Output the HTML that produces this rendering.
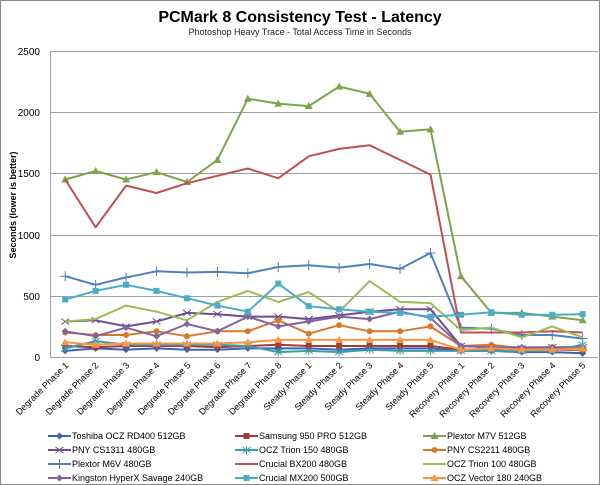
<!DOCTYPE html>
<html><head><meta charset="utf-8"><style>
html,body{margin:0;padding:0;background:#fff}
svg{display:block;font-family:"Liberation Sans",sans-serif}
</style></head><body>
<svg id="c" width="600" height="485" viewBox="0 0 600 485">
<rect x="0.5" y="0.5" width="599" height="484" fill="#fff" stroke="#888"/>
<text x="300" y="22" text-anchor="middle" font-size="16" font-weight="bold">PCMark 8 Consistency Test - Latency</text>
<text x="300" y="35" text-anchor="middle" font-size="9" fill="#222">Photoshop Heavy Trace - Total Access Time in Seconds</text>
<g stroke="#a0a0a0" stroke-width="1">
<line x1="50" y1="51.5" x2="598" y2="51.5"/><line x1="50" y1="112.5" x2="598" y2="112.5"/><line x1="50" y1="173.5" x2="598" y2="173.5"/><line x1="50" y1="235.5" x2="598" y2="235.5"/><line x1="50" y1="296.5" x2="598" y2="296.5"/><line x1="50" y1="357.5" x2="598" y2="357.5"/>
<line x1="50.5" y1="51" x2="50.5" y2="357"/>
</g>
<g font-size="10" text-anchor="end" fill="#000">
<text x="40" y="55">2500</text><text x="40" y="116">2000</text><text x="40" y="177">1500</text><text x="40" y="239">1000</text><text x="40" y="300">500</text><text x="40" y="361">0</text>
</g>
<text transform="translate(16,205) rotate(-90)" text-anchor="middle" font-size="9" font-weight="bold">Seconds (lower is better)</text>
<g font-size="9" text-anchor="end" id="cats">
<text transform="translate(69,366) rotate(-45)">Degrade Phase 1</text>
<text transform="translate(99,366) rotate(-45)">Degrade Phase 2</text>
<text transform="translate(130,366) rotate(-45)">Degrade Phase 3</text>
<text transform="translate(160,366) rotate(-45)">Degrade Phase 4</text>
<text transform="translate(191,366) rotate(-45)">Degrade Phase 5</text>
<text transform="translate(221,366) rotate(-45)">Degrade Phase 6</text>
<text transform="translate(252,366) rotate(-45)">Degrade Phase 7</text>
<text transform="translate(282,366) rotate(-45)">Degrade Phase 8</text>
<text transform="translate(312,366) rotate(-45)">Steady Phase 1</text>
<text transform="translate(343,366) rotate(-45)">Steady Phase 2</text>
<text transform="translate(373,366) rotate(-45)">Steady Phase 3</text>
<text transform="translate(404,366) rotate(-45)">Steady Phase 4</text>
<text transform="translate(434,366) rotate(-45)">Steady Phase 5</text>
<text transform="translate(465,366) rotate(-45)">Recovery Phase 1</text>
<text transform="translate(495,366) rotate(-45)">Recovery Phase 2</text>
<text transform="translate(525,366) rotate(-45)">Recovery Phase 3</text>
<text transform="translate(556,366) rotate(-45)">Recovery Phase 4</text>
<text transform="translate(586,366) rotate(-45)">Recovery Phase 5</text>
</g>
<g id="series"></g>
<g id="legend"></g>
<g font-size="9" fill="#000">
<text x="72" y="439">Toshiba OCZ RD400 512GB</text>
<text x="259" y="439">Samsung 950 PRO 512GB</text>
<text x="447" y="439">Plextor M7V 512GB</text>
<text x="72" y="453">PNY CS1311 480GB</text>
<text x="259" y="453">OCZ Trion 150 480GB</text>
<text x="447" y="453">PNY CS2211 480GB</text>
<text x="72" y="467">Plextor M6V 480GB</text>
<text x="259" y="467">Crucial BX200 480GB</text>
<text x="447" y="467">OCZ Trion 100 480GB</text>
<text x="72" y="481">Kingston HyperX Savage 240GB</text>
<text x="259" y="481">Crucial MX200 500GB</text>
<text x="447" y="481">OCZ Vector 180 240GB</text>
</g>
</svg>
<script>
var S=[
["#3B64AD","diamond",[50,70,60,70,60,60,70,70,70,60,70,70,70,50,50,40,40,30],0,0],
["#A23B3B","square",[90,80,90,90,90,80,90,100,90,90,90,90,90,60,60,60,60,60],1,0],
["#7EA34A","tri",[1450,1520,1450,1510,1430,1610,2110,2070,2050,2210,2150,1840,1860,660,360,360,330,300],2,0],
["#6C4F8D","x",[290,300,250,290,360,350,330,330,310,340,370,390,390,90,80,70,80,80],0,1],
["#3B9AAE","star",[70,130,100,100,100,100,90,40,50,40,60,50,50,50,50,50,50,100],1,1],
["#D9782D","circle",[200,180,180,210,170,210,210,300,190,260,210,210,250,90,100,70,80,60],2,1],
["#4F81BD","plus",[660,590,650,700,690,695,685,735,750,730,760,720,850,240,230,180,180,150],0,2],
["#C0504D","none",[1450,1060,1400,1340,1420,1480,1540,1460,1640,1700,1730,1610,1490,200,200,200,210,200],1,2],
["#9BBB59","none",[290,310,420,370,300,450,540,450,530,370,620,450,440,220,240,160,250,160],2,2],
["#8064A2","diamond",[210,170,240,170,270,210,330,250,290,330,310,370,320,90,80,80,80,70],0,3],
["#4BACC6","square",[470,540,590,540,480,420,370,600,415,390,370,360,330,345,365,345,345,350],1,3],
["#F79646","tri",[120,100,110,110,110,110,120,140,140,140,140,140,140,60,70,60,60,70],2,3]];
var ns="http://www.w3.org/2000/svg";
function el(t,a,p){var e=document.createElementNS(ns,t);for(var k in a)e.setAttribute(k,a[k]);p.appendChild(e);return e;}
function mk(type,x,y,c,p){
 if(type=="diamond")el("polygon",{points:(x)+","+(y-3.5)+" "+(x+3.5)+","+y+" "+x+","+(y+3.5)+" "+(x-3.5)+","+y,fill:c},p);
 else if(type=="square")el("rect",{x:x-3,y:y-3,width:6,height:6,fill:c},p);
 else if(type=="tri")el("polygon",{points:x+","+(y-4)+" "+(x+4)+","+(y+3)+" "+(x-4)+","+(y+3),fill:c},p);
 else if(type=="circle")el("circle",{cx:x,cy:y,r:3,fill:c},p);
 else if(type=="x"){el("path",{d:"M"+(x-4)+" "+(y-3)+"L"+(x+4)+" "+(y+3)+"M"+(x+4)+" "+(y-3)+"L"+(x-4)+" "+(y+3),stroke:c,"stroke-width":1,fill:"none"},p);}
 else if(type=="star"){el("path",{d:"M"+(x-4)+" "+(y-3)+"L"+(x+4)+" "+(y+3)+"M"+(x+4)+" "+(y-3)+"L"+(x-4)+" "+(y+3)+"M"+x+" "+(y-4)+"L"+x+" "+(y+4),stroke:c,"stroke-width":1,fill:"none"},p);}
 else if(type=="plus"){el("path",{d:"M"+(x-5)+" "+y+"L"+(x+5)+" "+y+"M"+x+" "+(y-5)+"L"+x+" "+(y+5),stroke:c,"stroke-width":1,fill:"none"},p);}
}
var g=document.getElementById("series"),L=document.getElementById("legend");
var lx=[48,235,423],ly=[436,450,464,478];
S.forEach(function(s){
 var pts=s[2].map(function(v,i){return [65.2+30.44*i,357-v*0.1224];});
 el("polyline",{points:pts.map(function(p){return p[0].toFixed(1)+","+p[1].toFixed(1)}).join(" "),fill:"none",stroke:s[0],"stroke-width":2,"stroke-linejoin":"round"},g);
 pts.forEach(function(p){mk(s[1],p[0],p[1],s[0],g);});
 var x=lx[s[3]],y=ly[s[4]];
 el("line",{x1:x,y1:y,x2:x+23,y2:y,stroke:s[0],"stroke-width":2},L);
 mk(s[1],x+11.5,y,s[0],L);
});
</script>
</body></html>
